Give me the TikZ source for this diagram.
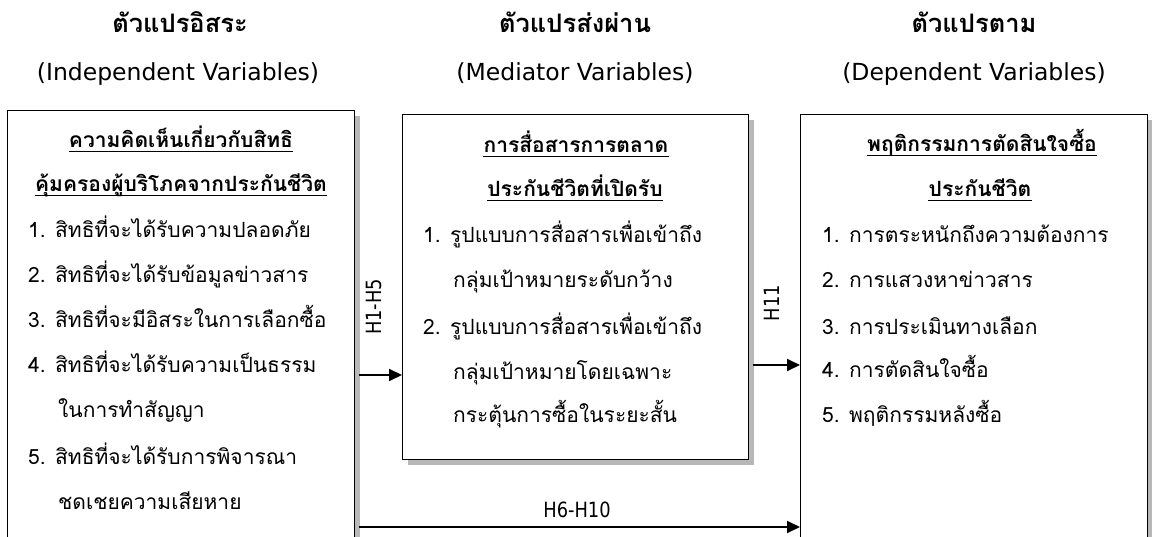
\documentclass[tikz,border=0pt]{standalone}
\usepackage{fontspec}
\setmainfont[Script=Thai]{Loma}
\newfontfamily\latf{DejaVu Sans}
\newfontfamily\latn[FakeStretch=0.85]{DejaVu Sans}
\usetikzlibrary{arrows.meta,calc,shadows}
\begin{document}
\begin{tikzpicture}[x=1pt,y=-1pt,
  txt/.style={inner sep=0pt,text height=14pt,text depth=5pt,font=\fontsize{21}{24}\selectfont},
  itm/.style={txt,anchor=west},
  head/.style={txt,font=\fontsize{21}{24}\selectfont\bfseries},
  ttl/.style={txt,font=\fontsize{25.5}{28}\selectfont\bfseries},
  sub/.style={txt,font=\fontsize{23.5}{28}\selectfont\latf},
  lbl/.style={txt,font=\fontsize{21}{24}\selectfont\latn},
  box/.style={draw,line width=1.3pt,fill=white,inner sep=0pt,anchor=north west,
    drop shadow={shadow xshift=5pt,shadow yshift=-5pt,fill=black!28,opacity=1}},
  uline/.style={line width=1.1pt},
  arr/.style={line width=1.8pt,-{Triangle[length=13pt,width=12pt]}}]
\clip (0,0) rectangle (1152,537);
\fill[white] (0,0) rectangle (1152,537);
% titles
\node[ttl] (t1) at (180,28) {ตัวแปรอิสระ};
\node[sub] (s1) at (178,76) {(Independent Variables)};
\node[ttl] (t2) at (575,28) {ตัวแปรส่งผ่าน};
\node[sub] (s2) at (575,76) {(Mediator Variables)};
\node[ttl] (t3) at (974,28) {ตัวแปรตาม};
\node[sub] (s3) at (974,76) {(Dependent Variables)};
% boxes
\node[box,minimum width=347pt,minimum height=470pt] (L) at (7,110) {};
\node[box,minimum width=346pt,minimum height=345pt] (M) at (402,114) {};
\node[box,minimum width=347pt,minimum height=470pt] (R) at (800,114) {};
% left box text
\node[head] (lh1) at (181,143) {ความคิดเห็นเกี่ยวกับสิทธิ};
\node[head] (lh2) at (181,187) {คุ้มครองผู้บริโภคจากประกันชีวิต};
\draw[uline] ([yshift=-4pt]lh1.base west) -- ([yshift=-4pt]lh1.base east);
\draw[uline] ([yshift=-4pt]lh2.base west) -- ([yshift=-4pt]lh2.base east);
\node[itm] (l1) at (28,233) {1. สิทธิที่จะได้รับความปลอดภัย};
\node[itm] (l2) at (28,278) {2. สิทธิที่จะได้รับข้อมูลข่าวสาร};
\node[itm] (l3) at (28,323) {3. สิทธิที่จะมีอิสระในการเลือกซื้อ};
\node[itm] (l4) at (28,368) {4. สิทธิที่จะได้รับความเป็นธรรม};
\node[itm] (l4b) at (58,413) {ในการทำสัญญา};
\node[itm] (l5) at (28,460) {5. สิทธิที่จะได้รับการพิจารณา};
\node[itm] (l5b) at (58,505) {ชดเชยความเสียหาย};
% middle box text
\node[head] (mh1) at (576,148) {การสื่อสารการตลาด};
\node[head] (mh2) at (575,192) {ประกันชีวิตที่เปิดรับ};
\draw[uline] ([yshift=-4pt]mh1.base west) -- ([yshift=-4pt]mh1.base east);
\draw[uline] ([yshift=-4pt]mh2.base west) -- ([yshift=-4pt]mh2.base east);
\node[itm] (m1) at (423,238) {1. รูปแบบการสื่อสารเพื่อเข้าถึง};
\node[itm] (m1b) at (453,283) {กลุ่มเป้าหมายระดับกว้าง};
\node[itm] (m2) at (423,330) {2. รูปแบบการสื่อสารเพื่อเข้าถึง};
\node[itm] (m2b) at (453,375) {กลุ่มเป้าหมายโดยเฉพาะ};
\node[itm] (m2c) at (453,418) {กระตุ้นการซื้อในระยะสั้น};
% right box text
\node[head] (rh1) at (982,147) {พฤติกรรมการตัดสินใจซื้อ};
\node[head] (rh2) at (980,192) {ประกันชีวิต};
\draw[uline] ([yshift=-4pt]rh1.base west) -- ([yshift=-4pt]rh1.base east);
\draw[uline] ([yshift=-4pt]rh2.base west) -- ([yshift=-4pt]rh2.base east);
\node[itm] (r1) at (822,238) {1. การตระหนักถึงความต้องการ};
\node[itm] (r2) at (822,283) {2. การแสวงหาข่าวสาร};
\node[itm] (r3) at (822,330) {3. การประเมินทางเลือก};
\node[itm] (r4) at (822,373) {4. การตัดสินใจซื้อ};
\node[itm] (r5) at (822,418) {5. พฤติกรรมหลังซื้อ};
% connectors
\coordinate (y1) at (0,375);
\coordinate (y2) at (0,365);
\coordinate (y3) at (0,527);
\draw[arr] ([xshift=4pt]L.east |- y1) -- (M.west |- y1);
\draw[arr] ([xshift=4pt]M.east |- y2) -- (R.west |- y2);
\draw[arr] ([xshift=4pt]L.east |- y3) -- (R.west |- y3);
\node[lbl,rotate=90] (k1) at (377,307) {H1-H5};
\node[lbl,rotate=90] (k2) at (775,303) {H11};
\node[lbl] (k3) at (577,513) {H6-H10};
\end{tikzpicture}
\end{document}
